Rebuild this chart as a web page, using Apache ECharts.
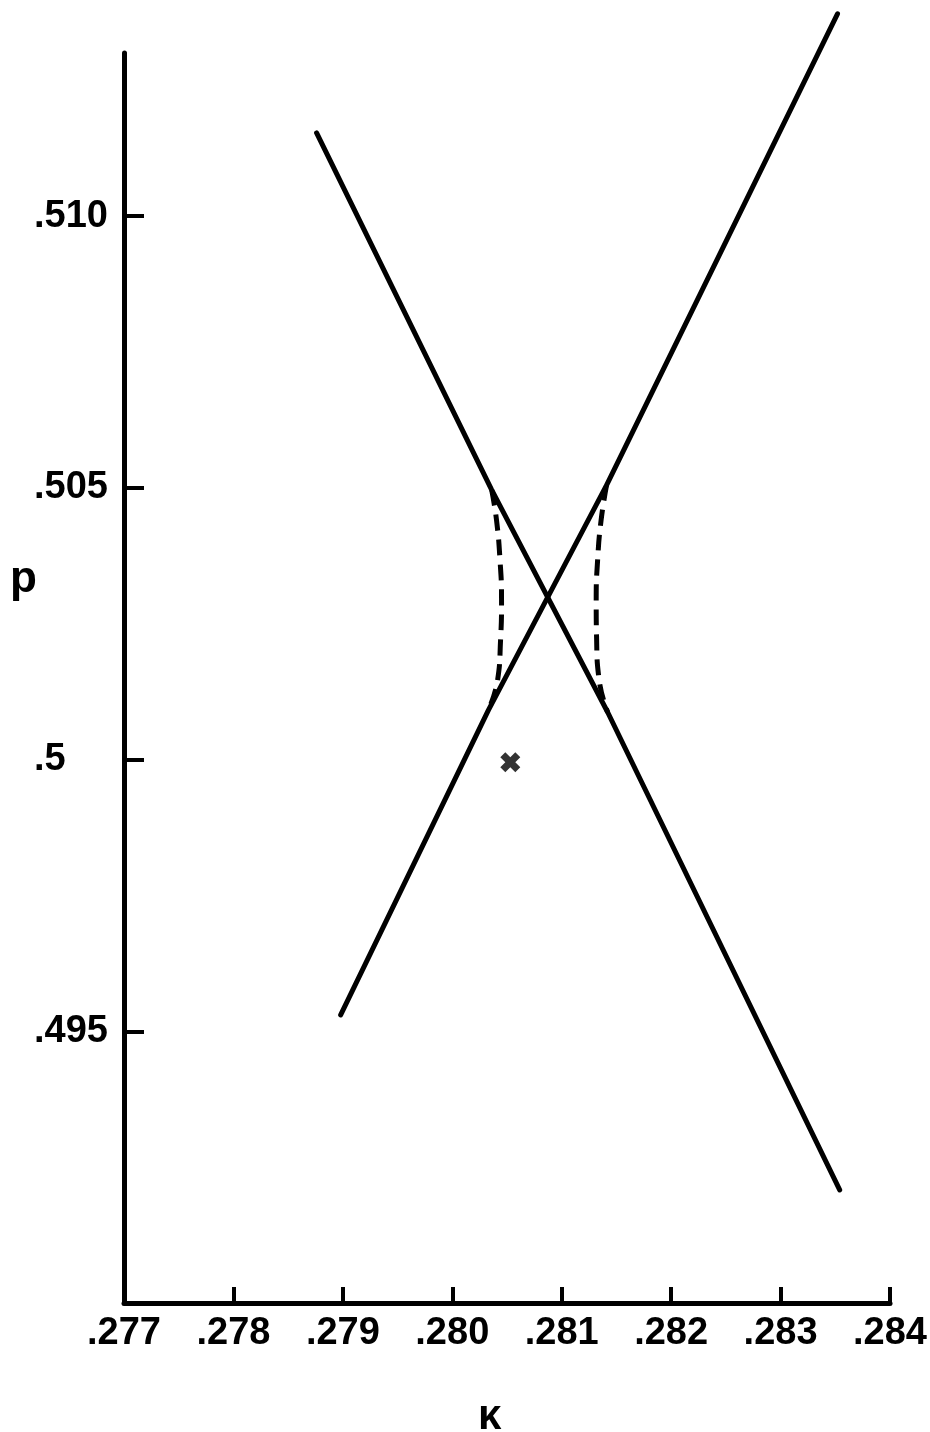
<!DOCTYPE html>
<html>
<head>
<meta charset="utf-8">
<script src="https://cdn.jsdelivr.net/npm/echarts@6/dist/echarts.min.js"></script>
<style>
html,body{margin:0;padding:0;background:#fff}
#chart{width:930px;height:1432px}
</style>
</head>
<body>
<div id="chart"></div>
<script>
// tick values and their printed labels
const xTicks = [0.277, 0.278, 0.279, 0.280, 0.281, 0.282, 0.283, 0.284];
const xTickLabels = ['.277', '.278', '.279', '.280', '.281', '.282', '.283', '.284'];
const yTicks = [0.495, 0.500, 0.505, 0.510];
const yTickLabels = ['.495', '.5', '.505', '.510'];

// [kappa, p] points
const fallingLine = [[0.27876, 0.51153], [0.28036, 0.50496], [0.28142, 0.50087], [0.28354, 0.49208]];
const risingLine = [[0.27898, 0.49530], [0.28033, 0.50091], [0.28141, 0.50505], [0.28352, 0.51372]];
const leftDashed = [[0.28036, 0.50496], [0.280404, 0.504407], [0.280436, 0.503671], [0.280450, 0.502935], [0.280441, 0.502199], [0.280414, 0.501463], [0.28033, 0.50091]];
const rightDashed = [[0.28141, 0.50505], [0.281360, 0.504407], [0.281328, 0.503671], [0.281315, 0.502935], [0.281319, 0.502199], [0.281342, 0.501463], [0.28142, 0.50087]];
const crossPoint = [[0.28053, 0.49995]];

const labelFont = { color: '#000', fontFamily: 'Liberation Sans', fontWeight: 'bold', fontSize: 38 };

function pick(ticks, labels, v) {
  for (let i = 0; i < ticks.length; i++) {
    if (Math.abs(ticks[i] - v) < 1e-7) return labels[i];
  }
  return '';
}

const chart = echarts.init(document.getElementById('chart'));
chart.setOption({
  animation: false,
  backgroundColor: '#fff',
  grid: { left: 124, right: 37, top: 53, bottom: 129 },
  xAxis: {
    type: 'value',
    min: 0.277, max: 0.284, interval: 0.001,
    splitLine: { show: false },
    axisLine: { onZero: false, lineStyle: { color: '#000', width: 5 } },
    axisTick: { inside: true, length: 16, lineStyle: { color: '#000', width: 4 }, customValues: xTicks.slice(1) },
    axisLabel: Object.assign({ margin: 12, customValues: xTicks, formatter: v => pick(xTicks, xTickLabels, v) }, labelFont)
  },
  yAxis: {
    type: 'value',
    min: 0.490, max: 0.513, interval: 0.005,
    splitLine: { show: false },
    axisLine: { onZero: false, lineStyle: { color: '#000', width: 5 } },
    axisTick: { inside: true, length: 20, lineStyle: { color: '#000', width: 4 }, customValues: yTicks },
    axisLabel: Object.assign({ margin: 90, align: 'left', customValues: yTicks, formatter: v => pick(yTicks, yTickLabels, v) }, labelFont)
  },
  graphic: [
    { type: 'text', left: 10, top: 558, style: { text: 'p', fill: '#000', font: 'bold 44px "Liberation Sans"' } },
    { type: 'text', left: 478, top: 1396, style: { text: 'κ', fill: '#000', font: 'bold 42px "Liberation Sans"' } }
  ],
  series: [
    { type: 'line', data: fallingLine, showSymbol: false, clip: false,
      lineStyle: { color: '#000', width: 5, cap: 'round' } },
    { type: 'line', data: risingLine, showSymbol: false, clip: false,
      lineStyle: { color: '#000', width: 5, cap: 'round' } },
    { type: 'line', data: leftDashed, showSymbol: false, smooth: true,
      lineStyle: { color: '#000', width: 5, type: [16, 9] } },
    { type: 'line', data: rightDashed, showSymbol: false, smooth: true,
      lineStyle: { color: '#000', width: 5, type: [16, 9] } },
    { type: 'scatter', data: crossPoint, symbolSize: 20,
      symbol: 'path://M2.5,0L5,2.5L7.5,0L10,2.5L7.5,5L10,7.5L7.5,10L5,7.5L2.5,10L0,7.5L2.5,5L0,2.5Z',
      itemStyle: { color: '#000' } }
  ]
});
</script>
</body>
</html>
